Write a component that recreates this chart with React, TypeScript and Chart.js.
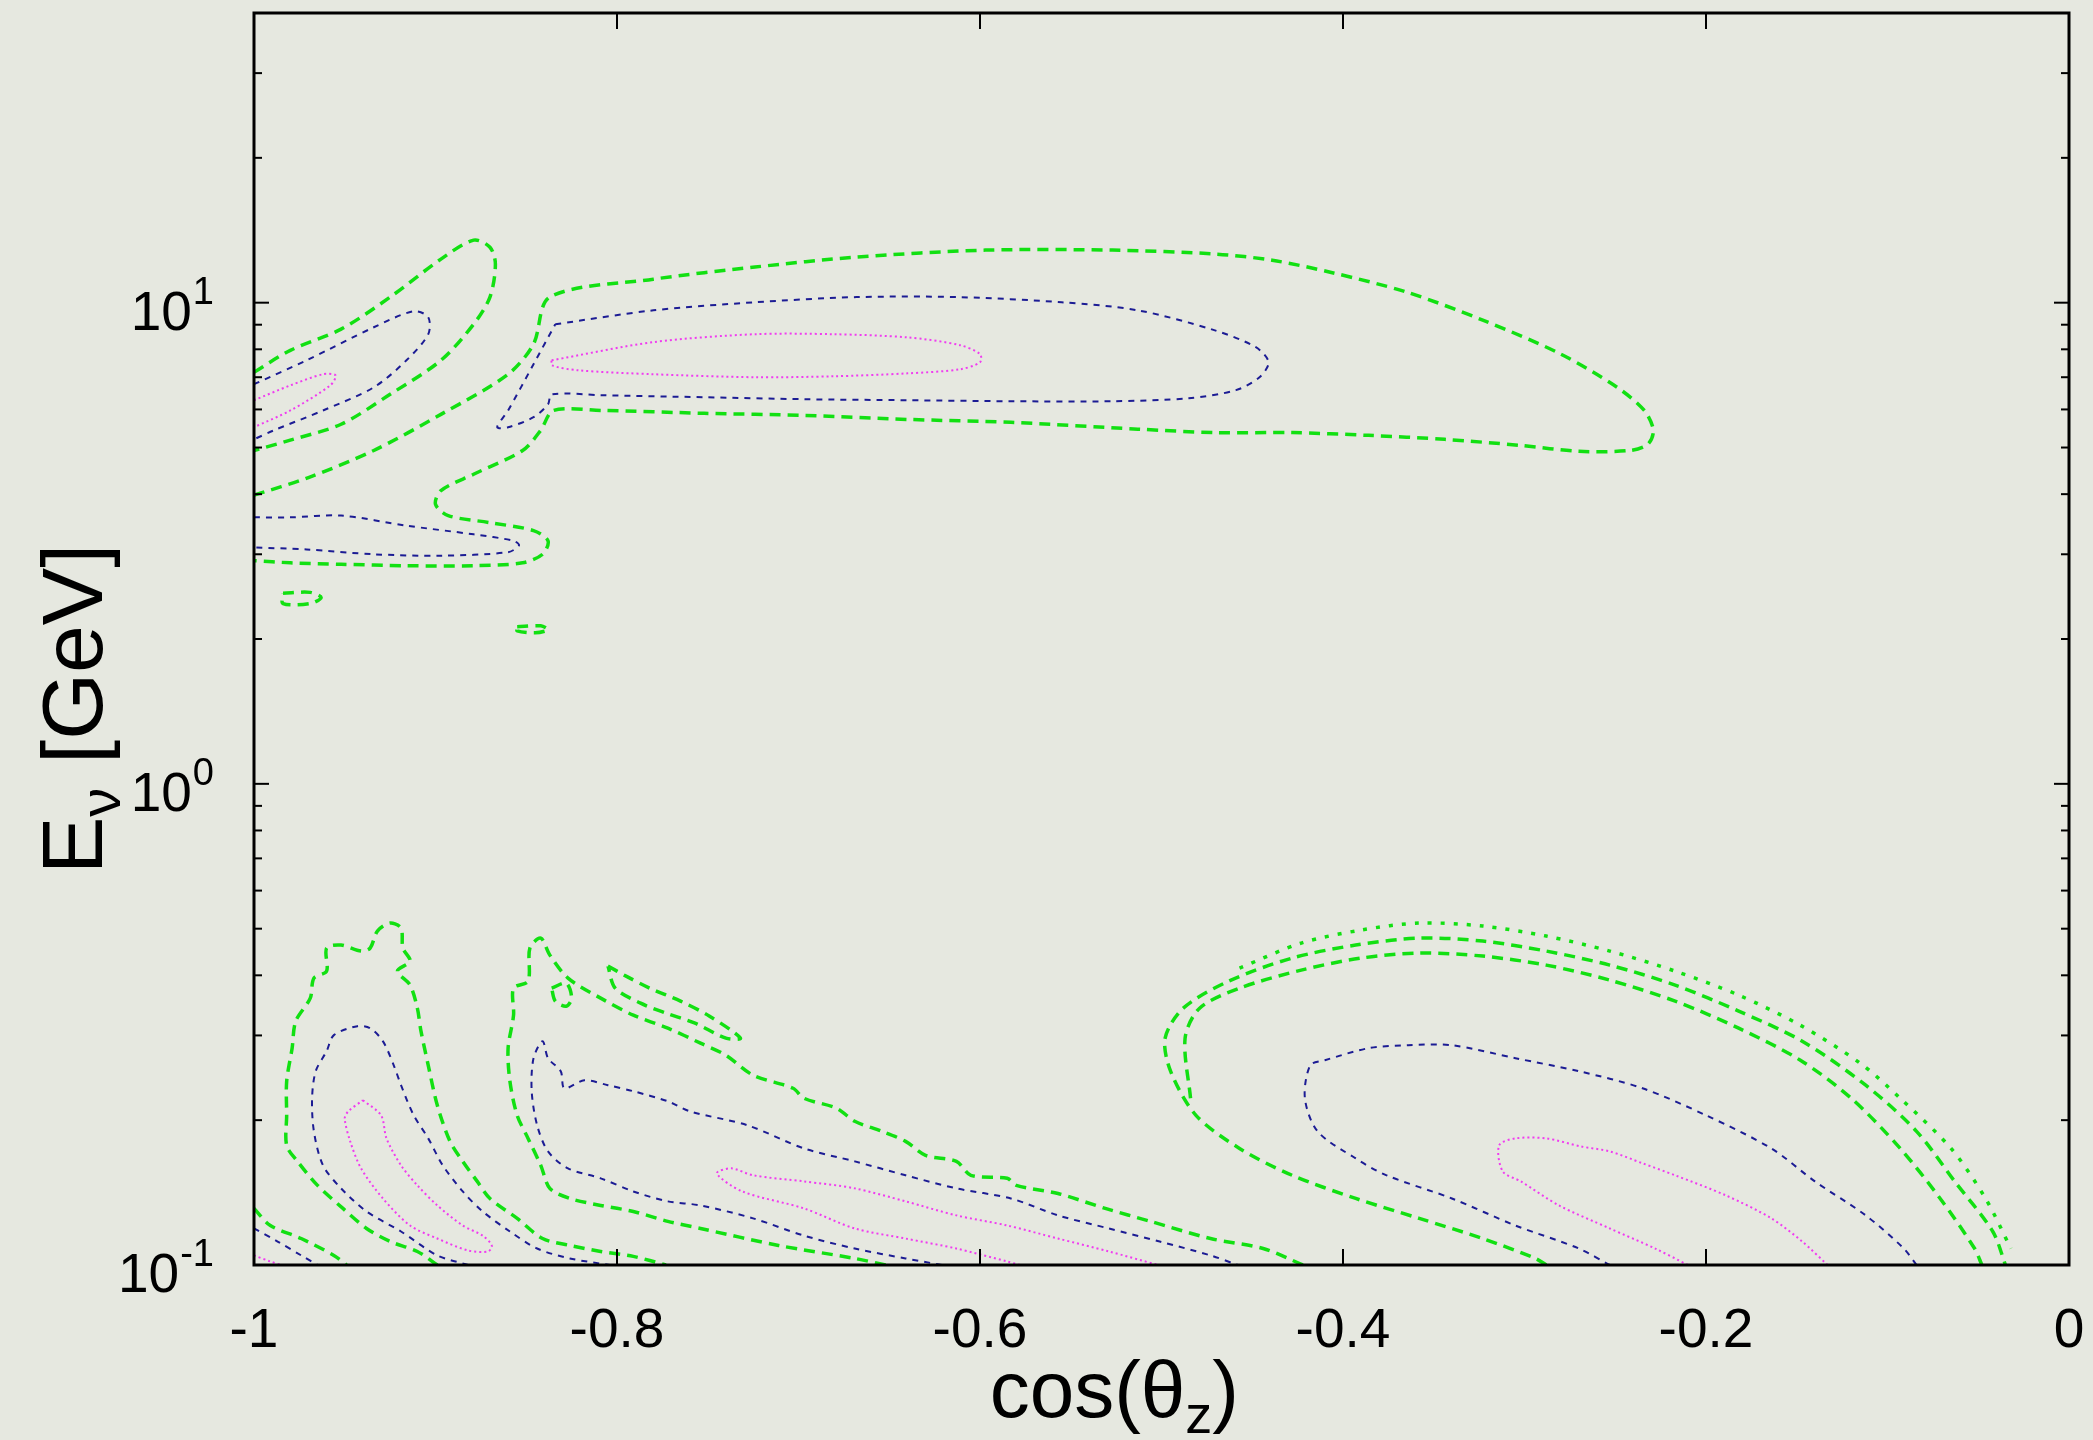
import React, { useEffect, useRef } from "react";
import { Chart, registerables } from "chart.js";

Chart.register(...registerables);

type P = [number, number];

// ---------- axis data ----------
const xTickValues = [-1, -0.8, -0.6, -0.4, -0.2, 0];
const xTickLabels = ["-1", "-0.8", "-0.6", "-0.4", "-0.2", "0"];
const yMajorTicks = [0.1, 1, 10];
const yMajorExponents = ["-1", "0", "1"];
const yMinorTicks = [0.2, 0.3, 0.4, 0.5, 0.6, 0.7, 0.8, 0.9, 2, 3, 4, 5, 6, 7, 8, 9, 20, 30];

// ---------- contours: [cos(theta_z), E (GeV)] ----------
// upper-left finger
const greenFingerTop: P[] = [[-1.0, 7.17], [-0.980, 7.96], [-0.952, 8.81], [-0.925, 10.27], [-0.897, 12.32], [-0.879, 13.49], [-0.870, 13.04], [-0.867, 12.03], [-0.870, 10.27], [-0.879, 9.02], [-0.897, 7.59], [-0.925, 6.45], [-0.952, 5.59], [-0.980, 5.18], [-1.0, 4.93]];
const blueFingerTop: P[] = [[-1.0, 6.77], [-0.971, 7.59], [-0.934, 8.89], [-0.912, 9.60], [-0.904, 9.33], [-0.904, 8.60], [-0.916, 7.59], [-0.934, 6.67], [-0.962, 5.97], [-0.989, 5.43], [-1.0, 5.20]];
const magentaFingerTop: P[] = [[-1.0, 6.27], [-0.980, 6.73], [-0.962, 7.10], [-0.955, 7.06], [-0.958, 6.73], [-0.980, 5.97], [-1.0, 5.51]];

// upper band (outer green)
const greenBand: P[] = [
  [-1.0, 3.98], [-0.970, 4.33], [-0.934, 4.93], [-0.897, 5.86], [-0.860, 7.10], [-0.846, 8.20], [-0.837, 10.27],
  [-0.780, 11.19], [-0.724, 11.86], [-0.668, 12.44], [-0.597, 12.86], [-0.527, 12.86], [-0.470, 12.62], [-0.439, 12.25],
  [-0.407, 11.57], [-0.365, 10.52], [-0.323, 9.20], [-0.280, 7.82], [-0.249, 6.67], [-0.234, 5.97], [-0.229, 5.43],
  [-0.232, 5.08], [-0.242, 4.93], [-0.270, 4.91], [-0.302, 5.05], [-0.344, 5.20], [-0.386, 5.30], [-0.428, 5.37],
  [-0.470, 5.37], [-0.513, 5.46], [-0.583, 5.64], [-0.640, 5.72], [-0.696, 5.83], [-0.752, 5.89], [-0.808, 5.97],
  [-0.835, 5.97], [-0.842, 5.43], [-0.852, 4.93], [-0.879, 4.40], [-0.897, 4.07], [-0.900, 3.81], [-0.893, 3.61],
  [-0.870, 3.49], [-0.846, 3.36], [-0.838, 3.20], [-0.841, 3.00], [-0.852, 2.88], [-0.879, 2.84], [-0.916, 2.84],
  [-0.952, 2.86], [-0.980, 2.88], [-1.0, 2.91],
];
const blueBand: P[] = [
  [-0.834, 9.02], [-0.780, 9.64], [-0.724, 10.02], [-0.668, 10.27], [-0.612, 10.27], [-0.555, 10.02], [-0.513, 9.64],
  [-0.471, 8.77], [-0.448, 8.08], [-0.441, 7.52], [-0.446, 7.00], [-0.459, 6.58], [-0.485, 6.33], [-0.527, 6.24],
  [-0.583, 6.24], [-0.640, 6.27], [-0.696, 6.30], [-0.752, 6.36], [-0.808, 6.42], [-0.836, 6.45], [-0.838, 6.15],
  [-0.846, 5.78], [-0.860, 5.51], [-0.866, 5.51], [-0.860, 5.97], [-0.846, 7.45], [-0.834, 9.02],
];
const magentaBand: P[] = [
  [-0.836, 7.59], [-0.780, 8.28], [-0.724, 8.60], [-0.681, 8.60], [-0.640, 8.47], [-0.611, 8.16], [-0.600, 7.82],
  [-0.600, 7.52], [-0.611, 7.27], [-0.640, 7.13], [-0.681, 7.03], [-0.724, 7.00], [-0.780, 7.10], [-0.822, 7.24],
  [-0.836, 7.41], [-0.836, 7.59],
];
const blueLowerFinger: P[] = [[-1.0, 3.58], [-0.980, 3.58], [-0.952, 3.61], [-0.916, 3.44], [-0.879, 3.30], [-0.857, 3.20], [-0.854, 3.13], [-0.860, 3.03], [-0.897, 2.98], [-0.934, 3.00], [-0.971, 3.07], [-1.0, 3.10]];
const greenIslandA: P[] = [[-0.984, 2.49], [-0.969, 2.50], [-0.963, 2.44], [-0.969, 2.37], [-0.984, 2.37], [-0.984, 2.49]];
const greenIslandB: P[] = [[-0.855, 2.12], [-0.842, 2.13], [-0.838, 2.09], [-0.845, 2.06], [-0.855, 2.08], [-0.855, 2.12]];

// lower-left corner
const greenCorner: P[] = [[-1.0, 0.1311], [-0.991, 0.1208], [-0.974, 0.1135], [-0.956, 0.1047], [-0.949, 0.1]];
const blueCorner: P[] = [[-1.0, 0.1191], [-0.987, 0.1119], [-0.974, 0.1047], [-0.965, 0.1]];
const magentaCorner: P[] = [[-1.0, 0.1047], [-0.991, 0.1017], [-0.985, 0.1]];

// left lobe
const greenLobeLeft: P[] = [
  [-0.899, 0.1], [-0.910, 0.1067], [-0.925, 0.1119], [-0.938, 0.1191], [-0.951, 0.1311], [-0.965, 0.1464],
  [-0.976, 0.1642], [-0.982, 0.1772], [-0.982, 0.2047], [-0.982, 0.2409], [-0.979, 0.2822], [-0.977, 0.3212],
  [-0.969, 0.3586], [-0.967, 0.3947], [-0.960, 0.4081], [-0.960, 0.4557], [-0.952, 0.4623], [-0.941, 0.4492],
  [-0.936, 0.4557], [-0.932, 0.4944], [-0.925, 0.5137], [-0.919, 0.5016], [-0.918, 0.4557], [-0.914, 0.4282],
  [-0.921, 0.4081], [-0.914, 0.3817], [-0.910, 0.3418], [-0.908, 0.3062], [-0.904, 0.2601], [-0.899, 0.2147],
  [-0.892, 0.1807], [-0.885, 0.1642], [-0.877, 0.1492], [-0.870, 0.1375], [-0.855, 0.1250], [-0.841, 0.1135],
  [-0.826, 0.1098], [-0.809, 0.1067], [-0.791, 0.1042], [-0.773, 0.1],
];
const blueLobeLeft: P[] = [
  [-0.882, 0.1], [-0.899, 0.1047], [-0.919, 0.1174], [-0.938, 0.1292], [-0.952, 0.1443], [-0.962, 0.1611],
  [-0.967, 0.1896], [-0.968, 0.2221], [-0.966, 0.2528], [-0.960, 0.2782], [-0.956, 0.3004], [-0.943, 0.3136],
  [-0.936, 0.3106], [-0.929, 0.2919], [-0.923, 0.2601], [-0.919, 0.2364], [-0.912, 0.2047], [-0.904, 0.1833],
  [-0.896, 0.1611], [-0.885, 0.1422], [-0.874, 0.1292], [-0.859, 0.1174], [-0.844, 0.1082], [-0.826, 0.1032], [-0.804, 0.1],
];
const magentaLobeLeft: P[] = [
  [-0.940, 0.2200], [-0.930, 0.2047], [-0.927, 0.1833], [-0.919, 0.1611], [-0.910, 0.1464], [-0.899, 0.1330],
  [-0.885, 0.1208], [-0.874, 0.1151], [-0.869, 0.1098], [-0.871, 0.1067], [-0.882, 0.1072], [-0.899, 0.1135],
  [-0.914, 0.1208], [-0.929, 0.1375], [-0.941, 0.1588], [-0.947, 0.1807], [-0.950, 0.2018], [-0.948, 0.2087], [-0.940, 0.2200],
];

// middle lobe
const greenLobeMid: P[] = [
  [-0.652, 0.1], [-0.669, 0.1032], [-0.711, 0.1098], [-0.754, 0.1191], [-0.772, 0.1232], [-0.791, 0.1292],
  [-0.809, 0.1330], [-0.826, 0.1375], [-0.837, 0.1443], [-0.842, 0.1611], [-0.849, 0.1833], [-0.855, 0.2047],
  [-0.859, 0.2409], [-0.860, 0.2822], [-0.857, 0.3305], [-0.857, 0.3762], [-0.849, 0.3890], [-0.848, 0.4557],
  [-0.842, 0.4780], [-0.837, 0.4406], [-0.827, 0.3947], [-0.809, 0.3586], [-0.791, 0.3305], [-0.772, 0.3106],
  [-0.754, 0.2891], [-0.740, 0.2729], [-0.725, 0.2480], [-0.703, 0.2330], [-0.697, 0.2221], [-0.679, 0.2117],
  [-0.669, 0.1989], [-0.654, 0.1896], [-0.641, 0.1807], [-0.630, 0.1690], [-0.613, 0.1642], [-0.605, 0.1536],
  [-0.585, 0.1514], [-0.580, 0.1464], [-0.557, 0.1408], [-0.531, 0.1311], [-0.506, 0.1232], [-0.473, 0.1135],
  [-0.444, 0.1082], [-0.422, 0.1],
];
const greenFingerMid: P[] = [
  [-0.805, 0.4181], [-0.795, 0.3984], [-0.782, 0.3762], [-0.765, 0.3535], [-0.749, 0.3290], [-0.732, 0.2961],
  [-0.740, 0.2961], [-0.757, 0.3181], [-0.773, 0.3337], [-0.787, 0.3501], [-0.801, 0.3762], [-0.805, 0.4181],
];
const greenSpeck: P[] = [[-0.836, 0.3762], [-0.828, 0.3852], [-0.825, 0.3586], [-0.828, 0.3451], [-0.834, 0.3535], [-0.836, 0.3762]];
const blueLobeMid: P[] = [
  [-0.621, 0.1], [-0.641, 0.1032], [-0.669, 0.1082], [-0.697, 0.1151], [-0.725, 0.1250], [-0.754, 0.1330],
  [-0.772, 0.1356], [-0.791, 0.1422], [-0.809, 0.1514], [-0.827, 0.1588], [-0.838, 0.1722], [-0.844, 0.1951],
  [-0.847, 0.2297], [-0.846, 0.2690], [-0.841, 0.2919], [-0.838, 0.2690], [-0.831, 0.2528], [-0.829, 0.2330],
  [-0.818, 0.2421], [-0.805, 0.2364], [-0.791, 0.2297], [-0.772, 0.2189], [-0.760, 0.2087], [-0.728, 0.1951],
  [-0.697, 0.1747], [-0.669, 0.1642], [-0.641, 0.1536], [-0.613, 0.1443], [-0.583, 0.1375], [-0.557, 0.1268],
  [-0.529, 0.1191], [-0.501, 0.1119], [-0.473, 0.1047], [-0.458, 0.1],
];
const magentaLobeMid: P[] = [
  [-0.578, 0.1], [-0.585, 0.1017], [-0.613, 0.1082], [-0.641, 0.1135], [-0.669, 0.1191], [-0.697, 0.1311],
  [-0.731, 0.1422], [-0.745, 0.1550], [-0.737, 0.1588], [-0.725, 0.1536], [-0.697, 0.1492], [-0.669, 0.1443],
  [-0.641, 0.1356], [-0.613, 0.1268], [-0.585, 0.1208], [-0.557, 0.1135], [-0.529, 0.1067], [-0.502, 0.1],
];

// right lobe
const greenArcRight: P[] = [
  [-0.288, 0.1], [-0.294, 0.1032], [-0.323, 0.1135], [-0.358, 0.1250], [-0.393, 0.1375], [-0.428, 0.1536],
  [-0.457, 0.1747], [-0.481, 0.2047], [-0.495, 0.2528], [-0.498, 0.2961], [-0.488, 0.3418], [-0.463, 0.3890],
  [-0.428, 0.4344], [-0.393, 0.4623], [-0.358, 0.4780], [-0.323, 0.4712], [-0.288, 0.4492], [-0.253, 0.4200],
  [-0.217, 0.3817], [-0.182, 0.3370], [-0.147, 0.2919], [-0.112, 0.2364], [-0.084, 0.1896], [-0.063, 0.1492],
  [-0.042, 0.1174], [-0.035, 0.1],
];
const greenArcInner: P[] = [
  [-0.484, 0.2221], [-0.487, 0.2961], [-0.479, 0.3418], [-0.457, 0.3762], [-0.423, 0.4101], [-0.390, 0.4344],
  [-0.358, 0.4449], [-0.323, 0.4385], [-0.288, 0.4200], [-0.253, 0.3909], [-0.217, 0.3535], [-0.182, 0.3106],
  [-0.148, 0.2664], [-0.120, 0.2221], [-0.093, 0.1747], [-0.071, 0.1375], [-0.052, 0.1082], [-0.048, 0.1],
];
const greenArcOuter: P[] = [
  [-0.457, 0.4140], [-0.423, 0.4668], [-0.390, 0.4968], [-0.358, 0.5137], [-0.323, 0.5064], [-0.288, 0.4826],
  [-0.253, 0.4492], [-0.217, 0.4081], [-0.182, 0.3638], [-0.148, 0.3150], [-0.115, 0.2626], [-0.093, 0.2221],
  [-0.065, 0.1747], [-0.046, 0.1375], [-0.032, 0.1082],
];
const blueLobeRight: P[] = [
  [-0.253, 0.1], [-0.270, 0.1082], [-0.305, 0.1208], [-0.340, 0.1375], [-0.376, 0.1536], [-0.393, 0.1665],
  [-0.414, 0.1896], [-0.421, 0.2221], [-0.418, 0.2601], [-0.410, 0.2664], [-0.386, 0.2822], [-0.364, 0.2863],
  [-0.340, 0.2863], [-0.305, 0.2690], [-0.270, 0.2528], [-0.235, 0.2330], [-0.200, 0.2047], [-0.164, 0.1747],
  [-0.140, 0.1492], [-0.112, 0.1268], [-0.091, 0.1082], [-0.084, 0.1],
];
const magentaLobeRight: P[] = [
  [-0.210, 0.1], [-0.228, 0.1082], [-0.253, 0.1191], [-0.281, 0.1330], [-0.302, 0.1492], [-0.312, 0.1565],
  [-0.314, 0.1772], [-0.305, 0.1833], [-0.288, 0.1833], [-0.269, 0.1764], [-0.253, 0.1722], [-0.235, 0.1627],
  [-0.217, 0.1536], [-0.189, 0.1395], [-0.164, 0.1250], [-0.147, 0.1119], [-0.133, 0.1],
];

// ---------- styles ----------
const BG = "#e6e8e0";
const GREEN = "#12e012";
const BLUE = "#1c1c94";
const MAGENTA = "#f03cf0";
const FONT = '"Liberation Sans", Arial, Helvetica, sans-serif';

const greenSeries = [greenFingerTop, greenBand, greenIslandA, greenIslandB, greenCorner, greenLobeLeft, greenLobeMid, greenFingerMid, greenSpeck, greenArcRight, greenArcInner];
const blueSeries = [blueFingerTop, blueBand, blueLowerFinger, blueCorner, blueLobeLeft, blueLobeMid, blueLobeRight];
const magentaSeries = [magentaFingerTop, magentaBand, magentaCorner, magentaLobeLeft, magentaLobeMid, magentaLobeRight];

const toPts = (arr: P[]) => arr.map(([x, y]) => ({ x, y }));

function makeDatasets() {
  const ds: any[] = [];
  const common = { showLine: true, pointRadius: 0, fill: false, tension: 0.3, borderCapStyle: "butt" };
  greenSeries.forEach((s) => ds.push({ ...common, data: toPts(s), borderColor: GREEN, borderWidth: 3.5, borderDash: [11, 7] }));
  ds.push({ ...common, data: toPts(greenArcOuter), borderColor: GREEN, borderWidth: 3.5, borderDash: [4, 9] });
  blueSeries.forEach((s) => ds.push({ ...common, data: toPts(s), borderColor: BLUE, borderWidth: 2, borderDash: [6, 6] }));
  magentaSeries.forEach((s) => ds.push({ ...common, data: toPts(s), borderColor: MAGENTA, borderWidth: 2, borderDash: [2, 3] }));
  return ds;
}

const overlay = {
  id: "overlay",
  beforeDraw(chart: any) {
    const { ctx, width, height } = chart;
    ctx.save();
    ctx.fillStyle = BG;
    ctx.fillRect(0, 0, width, height);
    ctx.restore();
  },
  afterDraw(chart: any) {
    const { ctx, chartArea: a, scales } = chart;
    const xs = scales.x;
    const ys = scales.y;
    const line = (x1: number, y1: number, x2: number, y2: number) => {
      ctx.beginPath();
      ctx.moveTo(x1, y1);
      ctx.lineTo(x2, y2);
      ctx.stroke();
    };
    ctx.save();
    ctx.strokeStyle = "#000";
    ctx.lineWidth = 2;
    for (const v of xTickValues) {
      const px = xs.getPixelForValue(v);
      line(px, a.bottom, px, a.bottom - 16);
      line(px, a.top, px, a.top + 16);
    }
    for (const v of yMajorTicks) {
      const py = ys.getPixelForValue(v);
      line(a.left, py, a.left + 15, py);
      line(a.right, py, a.right - 15, py);
    }
    for (const v of yMinorTicks) {
      const py = ys.getPixelForValue(v);
      line(a.left, py, a.left + 8, py);
      line(a.right, py, a.right - 8, py);
    }
    ctx.lineWidth = 3;
    ctx.strokeRect(a.left, a.top, a.right - a.left, a.bottom - a.top);

    ctx.fillStyle = "#000";
    ctx.textBaseline = "alphabetic";
    // x tick labels
    ctx.font = `55px ${FONT}`;
    ctx.textAlign = "center";
    xTickValues.forEach((v, i) => ctx.fillText(xTickLabels[i], xs.getPixelForValue(v), a.bottom + 82));
    // y tick labels 10^n
    const R = a.left - 40;
    yMajorTicks.forEach((v, i) => {
      const py = ys.getPixelForValue(v);
      ctx.textAlign = "right";
      ctx.font = `38px ${FONT}`;
      const sw = ctx.measureText(yMajorExponents[i]).width;
      ctx.fillText(yMajorExponents[i], R, py + 1);
      ctx.font = `55px ${FONT}`;
      ctx.fillText("10", R - sw - 1, py + 27);
    });
    // x title cos(θ_z)
    ctx.textAlign = "left";
    ctx.font = `80px ${FONT}`;
    const t1 = "cos(θ";
    const w1 = ctx.measureText(t1).width;
    const w3 = ctx.measureText(")").width;
    ctx.font = `54px ${FONT}`;
    const w2 = ctx.measureText("z").width;
    const total = w1 + w2 + w3;
    const cx = a.left + 0.474 * (a.right - a.left);
    const x0 = cx - total / 2;
    const by = a.bottom + 152;
    ctx.font = `80px ${FONT}`;
    ctx.fillText(t1, x0, by);
    ctx.font = `54px ${FONT}`;
    ctx.fillText("z", x0 + w1, by + 16);
    ctx.font = `80px ${FONT}`;
    ctx.fillText(")", x0 + w1 + w2, by);
    // y title E_ν [GeV]
    ctx.save();
    ctx.translate(102, 874);
    ctx.rotate(-Math.PI / 2);
    ctx.font = `86px ${FONT}`;
    ctx.fillText("E", 0, 0);
    const wE = ctx.measureText("E").width;
    ctx.font = `58px ${FONT}`;
    ctx.fillText("ν", wE, 18);
    const wN = ctx.measureText("ν").width;
    ctx.font = `86px ${FONT}`;
    ctx.fillText(" [GeV]", wE + wN, 0);
    ctx.restore();
    ctx.restore();
  },
};

export default function App() {
  const ref = useRef<HTMLCanvasElement | null>(null);
  useEffect(() => {
    document.body.style.margin = "0";
    document.body.style.background = BG;
    const canvas = ref.current;
    if (!canvas) return;
    const chart = new Chart(canvas, {
      type: "scatter",
      data: { datasets: makeDatasets() },
      options: {
        animation: false,
        responsive: false,
        maintainAspectRatio: false,
        devicePixelRatio: 1,
        layout: { padding: { left: 254, right: 24, top: 13, bottom: 175 } },
        plugins: { legend: { display: false }, tooltip: { enabled: false } },
        scales: {
          x: { type: "linear", min: -1, max: 0, display: false },
          y: { type: "logarithmic", min: 0.1, max: 40, display: false },
        },
      },
      plugins: [overlay],
    } as any);
    return () => chart.destroy();
  }, []);
  return (
    <div style={{ width: 2093, height: 1440, overflow: "hidden", background: BG }}>
      <canvas ref={ref} width={2093} height={1440} style={{ display: "block" }} />
    </div>
  );
}
